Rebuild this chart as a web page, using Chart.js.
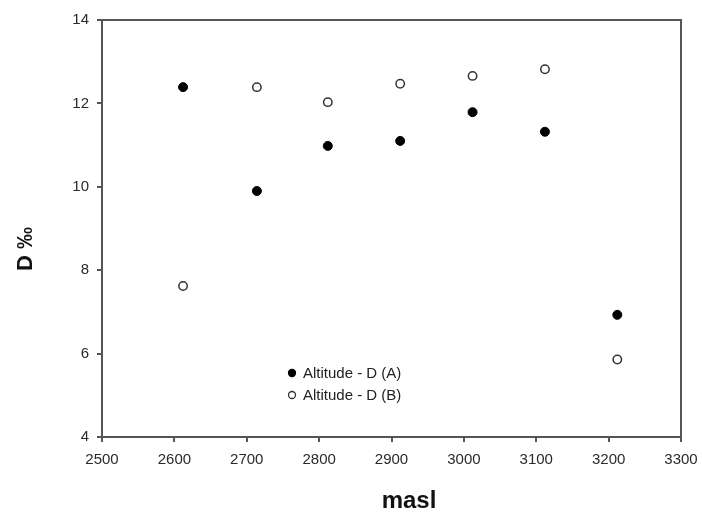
<!DOCTYPE html>
<html>
<head>
<meta charset="utf-8">
<script src="https://cdn.jsdelivr.net/npm/chart.js@4.4.1/dist/chart.umd.min.js"></script>
<style>
  html, body { margin: 0; padding: 0; background: #fff; }
  #wrap { width: 702px; height: 515px; }
</style>
</head>
<body>
<div id="wrap"><canvas id="chart"></canvas></div>
<script>
// altitude (masl) and D per mil
const altitude = [2612, 2714, 2812, 2912, 3012, 3112, 3212];
const dA = [12.39, 9.90, 10.98, 11.10, 11.79, 11.32, 6.93];
const dB = [7.62, 12.39, 12.03, 12.47, 12.66, 12.82, 5.86];
const xTicks = [2500, 2600, 2700, 2800, 2900, 3000, 3100, 3200, 3300];
const yTicks = [4, 6, 8, 10, 12, 14];
const labelA = "Altitude - D (A)";
const labelB = "Altitude - D (B)";

const toPoints = (xs, ys) => xs.map((x, i) => ({ x: x, y: ys[i] }));
const axisColor = "#555";
const tickFont = { family: "'Liberation Sans', Arial, sans-serif", size: 15 };

// box on top/right, titles and the legend inside the plot
const extras = {
  id: "extras",
  afterDraw(chart) {
    const ctx = chart.ctx;
    const a = chart.chartArea;
    ctx.save();
    ctx.strokeStyle = axisColor;
    ctx.lineWidth = 2;
    ctx.beginPath();
    ctx.moveTo(a.left, a.top);
    ctx.lineTo(a.right, a.top);
    ctx.lineTo(a.right, a.bottom);
    ctx.stroke();

    // axis titles
    ctx.fillStyle = "#111";
    ctx.font = "bold 24px 'Liberation Sans', Arial, sans-serif";
    ctx.textAlign = "center";
    ctx.textBaseline = "middle";
    ctx.fillText("masl", 409, 501);
    ctx.translate(26, 249);
    ctx.rotate(-Math.PI / 2);
    ctx.font = "bold 22px 'Liberation Sans', Arial, sans-serif";
    ctx.fillText("D \u2030", 0, 0);
    ctx.restore();

    // legend
    ctx.save();
    ctx.font = "15px 'Liberation Sans', Arial, sans-serif";
    ctx.textAlign = "left";
    ctx.textBaseline = "middle";
    chart.data.datasets.forEach((ds, i) => {
      const y = 373 + i * 22;
      ctx.beginPath();
      ctx.arc(292, y, 3.5, 0, Math.PI * 2);
      ctx.fillStyle = ds.backgroundColor;
      ctx.fill();
      ctx.lineWidth = 1.3;
      ctx.strokeStyle = ds.borderColor;
      ctx.stroke();
      ctx.fillStyle = "#222";
      ctx.fillText(ds.label, 303, y + 1);
    });
    ctx.restore();
  }
};

new Chart(document.getElementById("chart"), {
  type: "scatter",
  data: {
    datasets: [
      {
        label: labelA,
        data: toPoints(altitude, dA),
        backgroundColor: "#000",
        borderColor: "#000",
        borderWidth: 1,
        pointRadius: 4.5,
        pointHoverRadius: 4.5
      },
      {
        label: labelB,
        data: toPoints(altitude, dB),
        backgroundColor: "#fff",
        borderColor: "#333",
        borderWidth: 1.5,
        pointRadius: 4.2,
        pointHoverRadius: 4.2
      }
    ]
  },
  options: {
    responsive: true,
    maintainAspectRatio: false,
    animation: false,
    layout: { padding: { left: 0, top: 20, right: 21, bottom: 0 } },
    plugins: {
      legend: { display: false },
      tooltip: { enabled: false }
    },
    scales: {
      x: {
        type: "linear",
        min: xTicks[0],
        max: xTicks[xTicks.length - 1],
        afterBuildTicks: s => { s.ticks = xTicks.map(v => ({ value: v })); },
        afterFit: s => { s.height = 78; s.paddingLeft = 0; s.paddingRight = 0; },
        grid: { drawOnChartArea: false, drawTicks: true, tickLength: 5, color: axisColor, lineWidth: 2 },
        border: { display: true, color: axisColor, width: 2 },
        ticks: {
          color: "#2a2a2a",
          padding: 9,
          maxRotation: 0,
          font: tickFont,
          callback: v => String(v)
        }
      },
      y: {
        min: yTicks[0],
        max: yTicks[yTicks.length - 1],
        afterBuildTicks: s => { s.ticks = yTicks.map(v => ({ value: v })); },
        afterFit: s => { s.width = 102; s.paddingTop = 0; s.paddingBottom = 0; },
        grid: { drawOnChartArea: false, drawTicks: true, tickLength: 5, color: axisColor, lineWidth: 2 },
        border: { display: true, color: axisColor, width: 2 },
        ticks: {
          color: "#2a2a2a",
          padding: 8,
          font: tickFont,
          callback: v => String(v)
        }
      }
    }
  },
  plugins: [extras]
});
</script>
</body>
</html>
